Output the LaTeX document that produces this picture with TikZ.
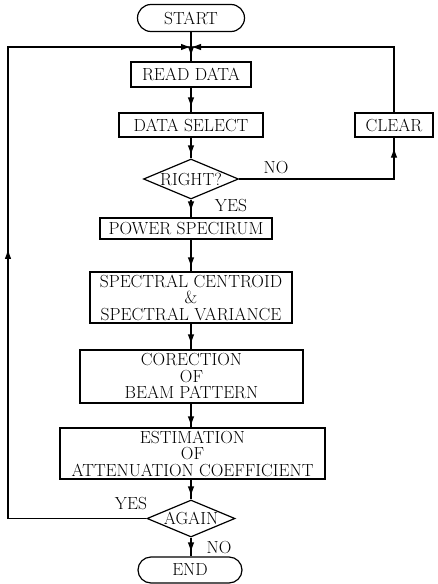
\documentclass[tikz,border=0pt]{standalone}
\usetikzlibrary{shapes.geometric,shapes.misc,arrows.meta,decorations.markings}
\begin{document}
\begin{tikzpicture}[x=1pt,y=-1pt,
  every node/.style={font=\fontsize{17.5}{16.5}\selectfont},
  box/.style={draw,line width=1.2pt,inner sep=0pt,align=center},
  term/.style={draw,line width=1.2pt,rounded rectangle,inner sep=0pt},
  dec/.style={draw,line width=1.2pt,diamond,inner sep=0pt},
  conn/.style={line width=1.2pt},
  tip/.style={-{Latex[length=10pt,width=6.5pt]}},
  arrowat/.style={postaction={decorate},decoration={markings,mark=at position #1 with {\arrow{Latex[length=10pt,width=6.5pt]}}}},
]
\useasboundingbox (0,0) rectangle (437,584);

\node[term,minimum width=107pt,minimum height=27pt] (start) at (191,18) {START};
\node[box,minimum width=120pt,minimum height=25pt] (read) at (191,74.5) {READ DATA};
\node[box,minimum width=144pt,minimum height=24pt] (dsel) at (191,125) {DATA SELECT};
\node[box,minimum width=78pt,minimum height=24pt] (clear) at (394,125) {CLEAR};
\node[dec,minimum width=95pt,minimum height=40pt] (right) at (191,179) {\makebox[0pt]{RIGHT?}};
\node[box,minimum width=172pt,minimum height=21pt] (power) at (186,228.5) {POWER SPECIRUM};
\node[box,minimum width=202pt,minimum height=51pt] (spec) at (191,297.5) {SPECTRAL CENTROID\\\&\\SPECTRAL VARIANCE};
\node[box,minimum width=223pt,minimum height=53pt] (corr) at (191.5,376.5) {CORECTION\\OF\\BEAM PATTERN};
\node[box,minimum width=265pt,minimum height=51pt] (est) at (192.5,453.5) {ESTIMATION\\OF\\ATTENUATION COEFFICIENT};
\node[dec,minimum width=88pt,minimum height=37pt] (again) at (191,518.5) {\makebox[0pt]{AGAIN}};
\node[term,minimum width=104pt,minimum height=26pt] (end) at (190,570) {END};

\coordinate (j) at (191,47);
\coordinate (jl) at (8,47);

\draw[conn,arrowat=-5pt] (start.south) -- (read.north);
\draw[conn,arrowat=-5pt] (read.south) -- (dsel.north);
\draw[conn,arrowat=-3pt] (dsel.south) -- (right.north);
\draw[conn,arrowat=-6pt] (right.south) -- (right.south |- power.north);
\draw[conn,arrowat=-4pt] (right.south |- power.south) -- (right.south |- spec.north);
\draw[conn,arrowat=-5pt] (spec.south) -- (spec.south |- corr.north);
\draw[conn,arrowat=-1pt] (spec.south |- corr.south) -- (spec.south |- est.north);
\draw[conn,arrowat=-3pt] (spec.south |- est.south) -- (again.north);
\draw[conn,arrowat=-4pt] (again.south) -- (again.south |- end.north);

\draw[conn,arrowat=-10pt] (right.east) -| (clear.south);
\draw[conn,tip] (clear.north) |- (j);
\draw[conn,tip,arrowat=408pt] (again.west) -| (jl) -- (j);

\node (yes1) at (231,206) {YES};
\node (no1) at (276,168) {NO};
\node (yes2) at (131,504) {YES};
\node (no2) at (219,548) {NO};
\end{tikzpicture}
\end{document}
